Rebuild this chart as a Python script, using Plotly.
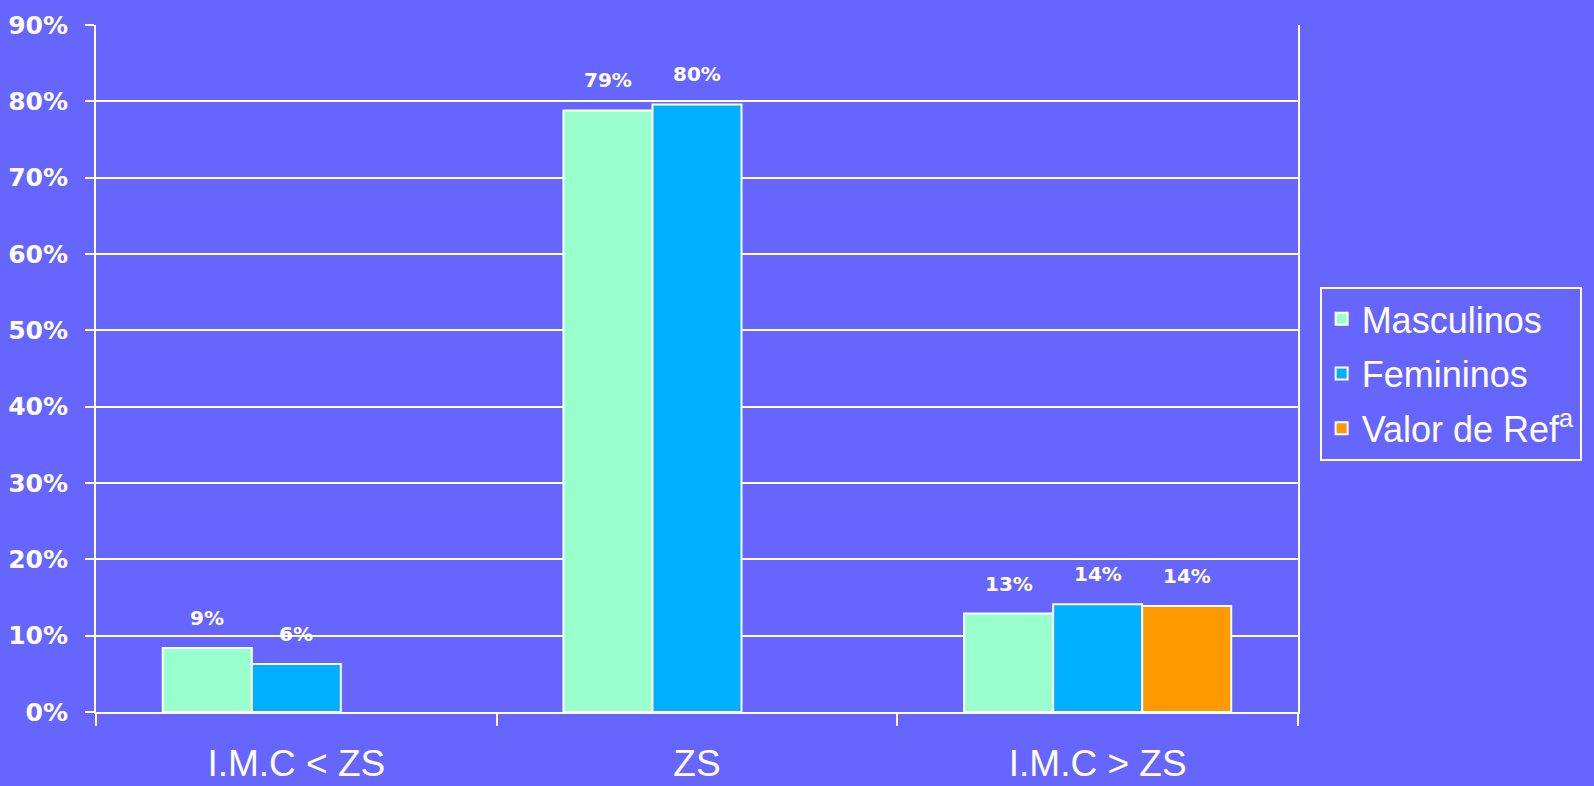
import plotly.graph_objects as go

categories = ["I.M.C < ZS", "ZS", "I.M.C > ZS"]
series_names = ["Masculinos", "Femininos", "Valor de Ref<sup>a</sup>"]
masculinos = [8.4, 78.8, 12.9]
femininos = [6.3, 79.6, 14.1]
valor_ref = [None, None, 13.9]
label_masc = ["9%", "79%", "13%"]
label_fem = ["6%", "80%", "14%"]
label_ref = [None, None, "14%"]
colors = ["#99FFCC", "#00B0FF", "#FF9900"]
bg = "#6666FF"
y_ticks = list(range(0, 91, 10))

BARGAP = 1/3
series = [masculinos, femininos, valor_ref]
labels = [label_masc, label_fem, label_ref]

fig = go.Figure()
for j, (name, vals, col) in enumerate(zip(series_names, series, colors)):
    fig.add_trace(go.Bar(
        x=categories, y=vals, name=name, marker=dict(color=col, line=dict(color="white", width=2)),
        legendgroup=f"g{j}", hoverinfo="skip"))

slot = (1 - BARGAP) / len(series)
annotations = []
for j, (vals, labs) in enumerate(zip(series, labels)):
    for i, (v, t) in enumerate(zip(vals, labs)):
        if v is None:
            continue
        annotations.append(dict(
            x=i + (j - (len(series) - 1) / 2) * slot, y=v, xref="x", yref="y",
            text=t, showarrow=False, yshift=30,
            font=dict(family="DejaVu Sans", size=20, color="white", weight="bold")))

fig.update_layout(
    width=1594, height=786,
    paper_bgcolor=bg, plot_bgcolor=bg,
    barmode="group", bargap=BARGAP, bargroupgap=0,
    margin=dict(l=96, r=296, t=25, b=74, autoexpand=False),
    annotations=annotations,
    showlegend=True,
    legend=dict(
        x=1.018, y=0.619, xanchor="left", yanchor="top",
        bgcolor="rgba(0,0,0,0)", bordercolor="white", borderwidth=2,
        font=dict(family="Liberation Sans, Arial", size=36, color="white"),
        traceorder="grouped", tracegroupgap=5),
    xaxis=dict(
        type="category", tickson="boundaries", ticks="outside", ticklen=12,
        tickwidth=2, tickcolor="white", showgrid=False,
        tickfont=dict(family="Liberation Sans, Arial", size=37, color="white"),
        ticklabelstandoff=18,
        showline=True, linecolor="white", linewidth=2, zeroline=False),
    yaxis=dict(
        range=[0, 90], tickvals=y_ticks, ticktext=[f"{v}%" for v in y_ticks],
        ticks="outside", ticklen=9, tickwidth=2, tickcolor="white",
        showgrid=True, gridcolor="white", gridwidth=2,
        showline=True, mirror=True, linecolor="white", linewidth=2, zeroline=False,
        tickfont=dict(family="DejaVu Sans", size=25, color="white", weight="bold"),
        ticklabelstandoff=12),
)

fig.write_html("out.html", config={"displayModeBar": False})

with open("out.html", "r", encoding="utf-8") as f:
    html = f.read()
html = html.replace("<head>", "<head><style>html,body{margin:0;padding:0;overflow:hidden;background:#6666FF;}</style>", 1)
with open("out.html", "w", encoding="utf-8") as f:
    f.write(html)
